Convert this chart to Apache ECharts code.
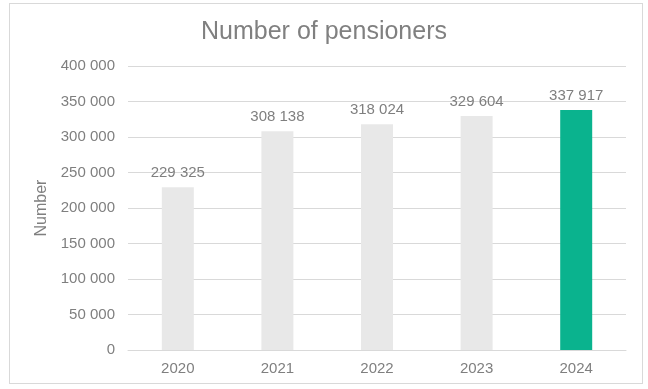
<!DOCTYPE html>
<html><head><meta charset="utf-8">
<script src="https://cdn.jsdelivr.net/npm/echarts@6/dist/echarts.min.js"></script>
<style>html,body{margin:0;padding:0;background:#fff}#c{width:648px;height:389px}
#frame{position:absolute;left:9px;top:3px;width:634px;height:381px;border:1px solid #d9d9d9;box-sizing:border-box;pointer-events:none}</style>
</head><body><div id="c"></div><div id="frame"></div>
<script>
const categories = ['2020', '2021', '2022', '2023', '2024'];
const values = [229325, 308138, 318024, 329604, 337917];
const barColors = ['#e8e8e8', '#e8e8e8', '#e8e8e8', '#e8e8e8', '#0ab38e'];
const titleText = 'Number of pensioners';
const yName = 'Number';
function fmt(v){ return String(v).replace(/\B(?=(\d{3})+(?!\d))/g, ' '); }
const chart = echarts.init(document.getElementById('c'));
const font = 'Liberation Sans, Arial, sans-serif';
chart.setOption({
  animation: false,
  title: { text: titleText, left: 'center', top: 15, textStyle: { fontFamily: font, fontSize: 25, fontWeight: 'normal', color: '#808080' } },
  grid: { left: 128, right: 22, top: 66, bottom: 39 },
  xAxis: { type: 'category', data: categories,
    axisLine: { lineStyle: { color: '#d9d9d9' } }, axisTick: { show: false },
    axisLabel: { fontFamily: font, fontSize: 15, color: '#7f7f7f', margin: 11 } },
  yAxis: { type: 'value', min: 0, max: 400000, interval: 50000,
    name: yName, nameLocation: 'middle', nameGap: 72, nameRotate: 90,
    nameTextStyle: { fontFamily: font, fontSize: 16, color: '#7f7f7f' },
    axisLabel: { fontFamily: font, fontSize: 15, color: '#7f7f7f', margin: 13, formatter: fmt },
    splitLine: { lineStyle: { color: '#d9d9d9' } } },
  series: [{ type: 'bar', barWidth: 32,
    data: values.map((v, i) => ({ value: v, itemStyle: { color: barColors[i] } })),
    label: { show: true, position: 'top', distance: 7, fontFamily: font, fontSize: 15, color: '#7f7f7f', formatter: p => fmt(p.value) } }]
});
</script></body></html>
